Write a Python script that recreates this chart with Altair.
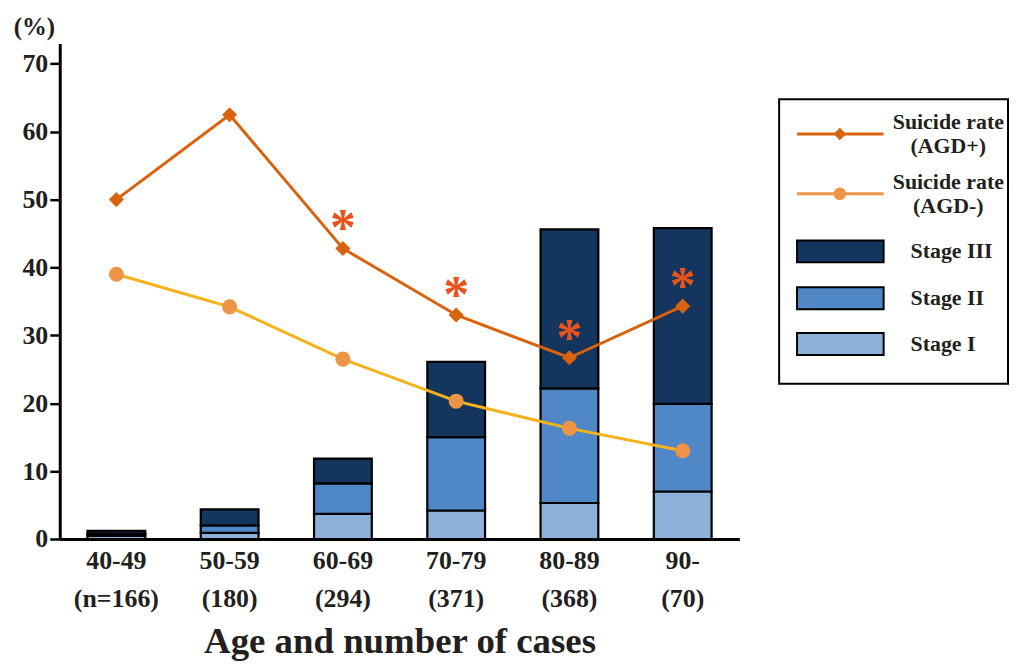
import altair as alt
import pandas as pd

# ---------------- data ----------------
ages = ["40-49", "50-59", "60-69", "70-79", "80-89", "90-"]
cases = ["(n=166)", "(180)", "(294)", "(371)", "(368)", "(70)"]
stage1 = [0.45, 0.9, 3.7, 4.2, 5.3, 7.0]
stage2 = [0.35, 1.1, 4.5, 10.8, 16.9, 12.9]
stage3 = [0.4, 2.35, 3.65, 11.1, 23.4, 25.9]
agd_pos = [50.0, 62.5, 42.8, 33.0, 26.7, 34.3]
agd_neg = [39.0, 34.2, 26.5, 20.3, 16.3, 13.0]
significant = [False, False, True, True, True, True]
stage_names = ["Stage I", "Stage II", "Stage III"]
stage_colors = ["#8db0d9", "#4f87c7", "#14355e"]
y_ticks = [0, 10, 20, 30, 40, 50, 60, 70]

FONT = "Liberation Serif"
TXT = "#231f20"
C_POS = "#d9620f"
C_NEG_LINE = "#f6b21d"
C_NEG_PT = "#ee9447"
C_STAR = "#e8531c"

bars_df = pd.DataFrame(
    [
        {"age": a, "stage": s, "order": i, "value": v}
        for i, (s, vals) in enumerate(zip(stage_names, [stage1, stage2, stage3]))
        for a, v in zip(ages, vals)
    ]
)
lines_df = pd.DataFrame(
    [{"age": a, "series": "AGD+", "value": v} for a, v in zip(ages, agd_pos)]
    + [{"age": a, "series": "AGD-", "value": v} for a, v in zip(ages, agd_neg)]
)
star_df = pd.DataFrame(
    [{"age": a, "value": v} for a, v, s in zip(ages, agd_pos, significant) if s]
)

# second line of x labels
expr = "''"
for a, c in reversed(list(zip(ages, cases))):
    expr = f"datum.label == '{a}' ? '{c}' : ({expr})"
label_expr = f"[datum.label, {expr}]"

W, H = 683, 498

x_enc = alt.X(
    "age:N",
    sort=ages,
    scale=alt.Scale(paddingInner=0.49, paddingOuter=0.245),
    axis=alt.Axis(
        title="Age and number of cases",
        labelAngle=0,
        ticks=False,
        domainWidth=3,
        domainColor="black",
        labelFont=FONT,
        labelFontSize=26,
        labelFontWeight="bold",
        labelColor=TXT,
        labelPadding=9,
        labelLineHeight=38,
        labelExpr=label_expr,
        titleFont=FONT,
        titleFontSize=37,
        titleFontWeight="bold",
        titleColor=TXT,
        titlePadding=12,
    ),
)
y_scale = alt.Scale(domain=[0, 73], nice=False)
y_axis = alt.Axis(
    values=y_ticks,
    grid=False,
    title="(%)",
    titleAngle=0,
    titleX=-26,
    titleY=-4,
    titleAlign="center",
    titleBaseline="bottom",
    titleFont=FONT,
    titleFontSize=25,
    titleFontWeight="bold",
    titleColor=TXT,
    labelFont=FONT,
    labelFontSize=26,
    labelFontWeight="bold",
    labelColor=TXT,
    labelPadding=2,
    tickSize=10,
    tickWidth=2.5,
    tickColor="black",
    domainWidth=3,
    domainColor="black",
)

bars = (
    alt.Chart(bars_df)
    .mark_bar(stroke="black", strokeWidth=2.2)
    .encode(
        x=x_enc,
        y=alt.Y("value:Q", stack="zero", scale=y_scale, axis=y_axis),
        color=alt.Color(
            "stage:N",
            scale=alt.Scale(domain=stage_names, range=stage_colors),
            legend=None,
        ),
        order=alt.Order("order:Q", sort="ascending"),
    )
)

base_line = alt.Chart(lines_df).encode(
    x=alt.X("age:N", sort=ages), y=alt.Y("value:Q", scale=y_scale)
)
line_pos = base_line.transform_filter("datum.series == 'AGD+'").mark_line(
    color=C_POS, strokeWidth=3
)
pts_pos = base_line.transform_filter("datum.series == 'AGD+'").mark_point(
    shape="diamond", filled=True, size=230, color=C_POS, opacity=1
)
line_neg = base_line.transform_filter("datum.series == 'AGD-'").mark_line(
    color=C_NEG_LINE, strokeWidth=3
)
pts_neg = base_line.transform_filter("datum.series == 'AGD-'").mark_point(
    shape="circle", filled=True, size=230, color=C_NEG_PT, opacity=1
)
stars = (
    alt.Chart(star_df)
    .mark_text(text="*", font=FONT, fontSize=52, fontWeight="bold", color=C_STAR,
               baseline="middle", dy=-19)
    .encode(x=alt.X("age:N", sort=ages), y=alt.Y("value:Q", scale=y_scale))
)

main = alt.layer(bars, line_neg, pts_neg, line_pos, pts_pos, stars).properties(
    width=W, height=H
)

# ---------------- legend panel ----------------
LW = 230
leg_box = pd.DataFrame([{"x1": 0, "x2": LW, "y1": 56, "y2": 342}])
leg_lines = pd.DataFrame(
    [
        {"x1": 18, "x2": 105, "xm": 61, "y": 91, "shape": "diamond", "c": C_POS, "lc": C_POS,
         "tx": 170, "label": "Suicide rate\n(AGD+)"},
        {"x1": 18, "x2": 105, "xm": 61, "y": 151, "shape": "circle", "c": C_NEG_PT, "lc": C_NEG_PT,
         "tx": 170, "label": "Suicide rate\n(AGD-)"},
    ]
)
leg_stages = pd.DataFrame(
    [
        {"x1": 18, "x2": 105, "y1": 198, "y2": 220, "stage": "Stage III", "tx": 132},
        {"x1": 18, "x2": 105, "y1": 245, "y2": 267, "stage": "Stage II", "tx": 132},
        {"x1": 18, "x2": 105, "y1": 291, "y2": 313, "stage": "Stage I", "tx": 132},
    ]
)
lx = alt.Scale(domain=[0, LW])
ly = alt.Scale(domain=[0, H], reverse=True)

box = alt.Chart(leg_box).mark_rect(fillOpacity=0, stroke="black", strokeWidth=2).encode(
    x=alt.X("x1:Q", scale=lx, axis=None),
    x2="x2:Q",
    y=alt.Y("y1:Q", scale=ly, axis=None),
    y2="y2:Q",
)
l_rules = alt.Chart(leg_lines).mark_rule(strokeWidth=3).encode(
    x=alt.X("x1:Q", scale=lx, axis=None),
    x2="x2:Q",
    y=alt.Y("y:Q", scale=ly, axis=None),
    color=alt.Color("lc:N", scale=None),
)
l_pts = alt.Chart(leg_lines).mark_point(filled=True, size=160, opacity=1).encode(
    x=alt.X("xm:Q", scale=lx, axis=None),
    y=alt.Y("y:Q", scale=ly, axis=None),
    shape=alt.Shape("shape:N", scale=None),
    color=alt.Color("c:N", scale=None),
)
l_txt1 = alt.Chart(leg_lines).mark_text(
    font=FONT, fontSize=22, fontWeight="bold", color=TXT, align="center",
    baseline="middle", lineBreak="\n", lineHeight=24, dy=-12,
).encode(
    x=alt.X("tx:Q", scale=lx, axis=None),
    y=alt.Y("y:Q", scale=ly, axis=None),
    text="label:N",
)
l_rects = alt.Chart(leg_stages).mark_rect(stroke="black", strokeWidth=2).encode(
    x=alt.X("x1:Q", scale=lx, axis=None),
    x2="x2:Q",
    y=alt.Y("y1:Q", scale=ly, axis=None),
    y2="y2:Q",
    fill=alt.Fill(
        "stage:N",
        scale=alt.Scale(domain=stage_names, range=stage_colors),
        legend=None,
    ),
)
l_txt2 = alt.Chart(leg_stages).transform_calculate(
    ym="(datum.y1 + datum.y2) / 2"
).mark_text(
    font=FONT, fontSize=22, fontWeight="bold", color=TXT, align="left", baseline="middle",
).encode(
    x=alt.X("tx:Q", scale=lx, axis=None),
    y=alt.Y("ym:Q", scale=ly, axis=None),
    text="stage:N",
)

legend = alt.layer(box, l_rules, l_pts, l_txt1, l_rects, l_txt2).properties(
    width=LW, height=H
)

chart = (
    alt.hconcat(main, legend, spacing=39)
    .properties(padding={"left": 5, "top": 5, "right": 0, "bottom": 5})
    .configure_view(stroke=None)
)

chart.save("out.html", embed_options={"renderer": "svg", "actions": False})
